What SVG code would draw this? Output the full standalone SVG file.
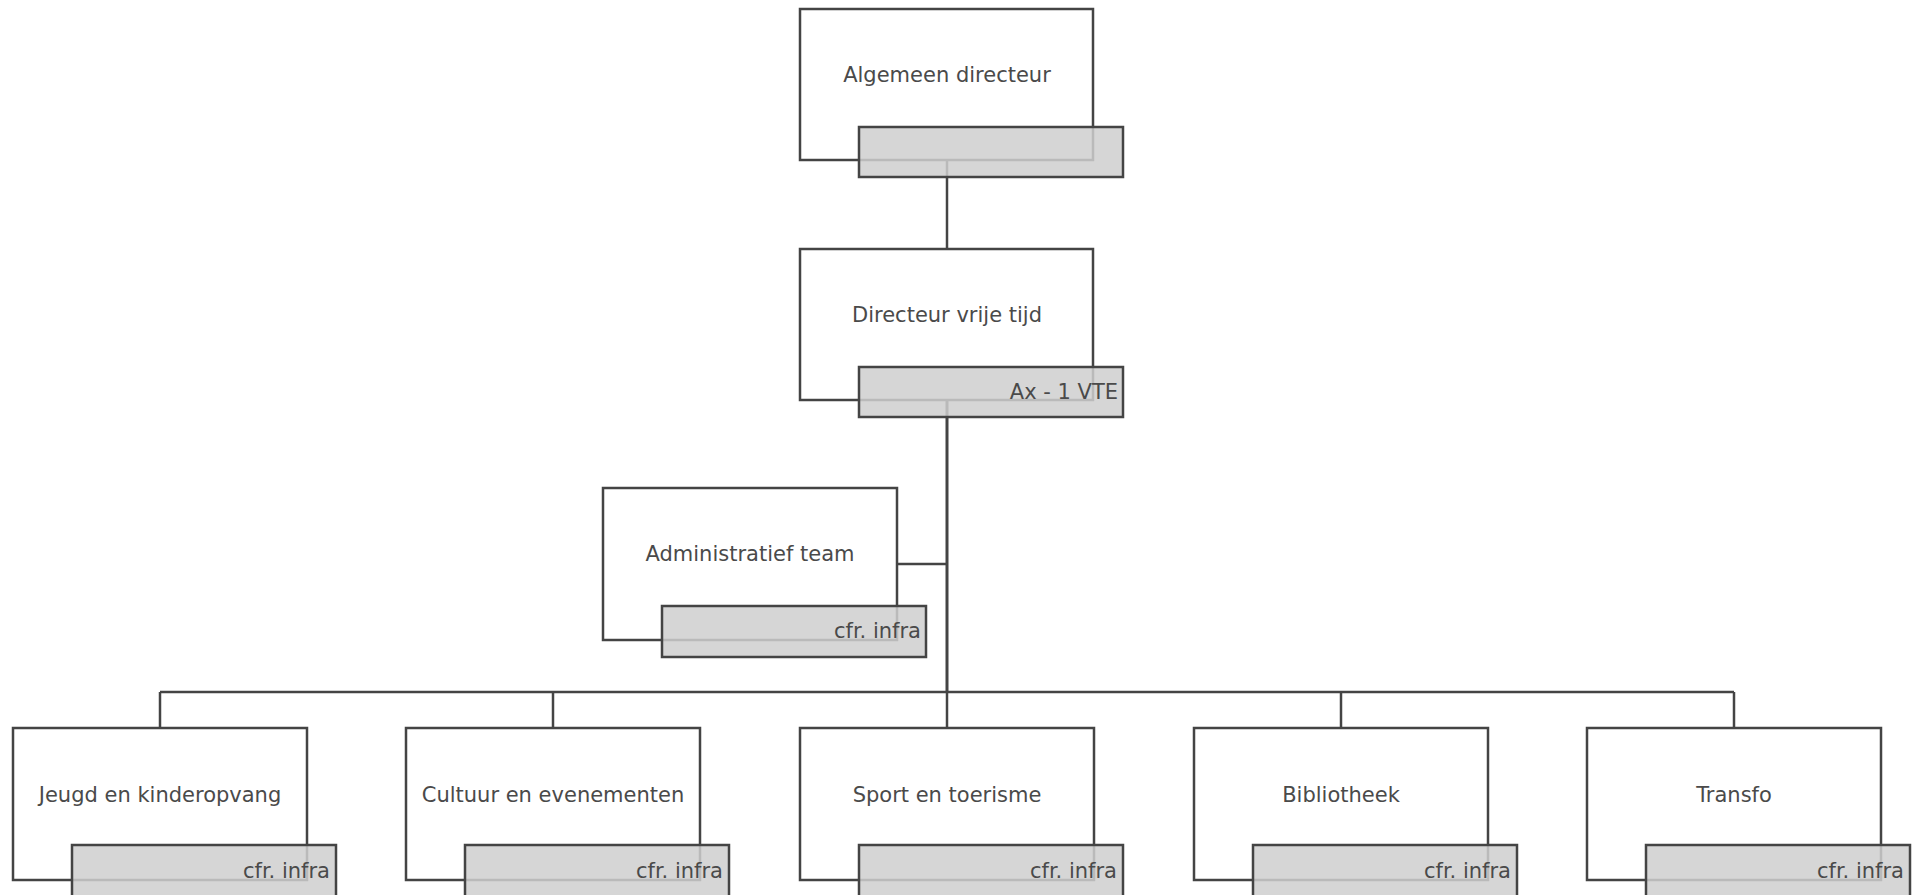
<svg xmlns="http://www.w3.org/2000/svg" width="1914" height="895" viewBox="0 0 1914 895">
<style>
.box{fill:#ffffff;stroke:#444444;stroke-width:2.5}
.sub{fill:#cfcfcf;fill-opacity:0.85;stroke:#444444;stroke-width:2.5}
.conn{fill:none;stroke:#444444;stroke-width:2.5}
.t{font-family:"DejaVu Sans",Verdana,sans-serif;font-size:21px;fill:#4a4a4a;text-anchor:middle}
.s{font-family:"DejaVu Sans",Verdana,sans-serif;font-size:21px;fill:#4a4a4a;text-anchor:end}
</style>
<rect width="1914" height="895" fill="#ffffff"/>
<g id="mainboxes">
<rect class="box" x="800" y="9" width="293" height="151"/>
<rect class="box" x="800" y="249" width="293" height="151"/>
<rect class="box" x="603" y="488" width="294" height="152"/>
<rect class="box" x="13" y="728" width="294" height="152"/>
<rect class="box" x="406" y="728" width="294" height="152"/>
<rect class="box" x="800" y="728" width="294" height="152"/>
<rect class="box" x="1194" y="728" width="294" height="152"/>
<rect class="box" x="1587" y="728" width="294" height="152"/>
</g>
<g id="connectors">
<line class="conn" x1="947" y1="160" x2="947" y2="249"/>
<line class="conn" x1="947" y1="400" x2="947" y2="692" style="stroke-width:3"/>
<polyline class="conn" points="897,564 946,564"/>
<line class="conn" x1="160" y1="692" x2="1734" y2="692"/>
<line class="conn" x1="160" y1="692" x2="160" y2="728"/>
<line class="conn" x1="553" y1="692" x2="553" y2="728"/>
<line class="conn" x1="947" y1="692" x2="947" y2="728"/>
<line class="conn" x1="1341" y1="692" x2="1341" y2="728"/>
<line class="conn" x1="1734" y1="692" x2="1734" y2="728"/>
</g>
<g id="node-algemeen-directeur">
<rect class="sub" x="859" y="127" width="264" height="50"/>
<text class="t" x="947" y="82">Algemeen directeur</text>
</g>
<g id="node-directeur-vrije-tijd">
<rect class="sub" x="859" y="367" width="264" height="50"/>
<text class="t" x="947" y="322">Directeur vrije tijd</text>
<text class="s" x="1118" y="399">Ax - 1 VTE</text>
</g>
<g id="node-administratief-team">
<rect class="sub" x="662" y="606" width="264" height="51"/>
<text class="t" x="750" y="561">Administratief team</text>
<text class="s" x="921" y="638">cfr. infra</text>
</g>
<g id="node-jeugd">
<rect class="sub" x="72" y="845" width="264" height="52"/>
<text class="t" x="160" y="802">Jeugd en kinderopvang</text>
<text class="s" x="330" y="878">cfr. infra</text>
</g>
<g id="node-cultuur">
<rect class="sub" x="465" y="845" width="264" height="52"/>
<text class="t" x="553" y="802">Cultuur en evenementen</text>
<text class="s" x="723" y="878">cfr. infra</text>
</g>
<g id="node-sport">
<rect class="sub" x="859" y="845" width="264" height="52"/>
<text class="t" x="947" y="802">Sport en toerisme</text>
<text class="s" x="1117" y="878">cfr. infra</text>
</g>
<g id="node-bibliotheek">
<rect class="sub" x="1253" y="845" width="264" height="52"/>
<text class="t" x="1341" y="802">Bibliotheek</text>
<text class="s" x="1511" y="878">cfr. infra</text>
</g>
<g id="node-transfo">
<rect class="sub" x="1646" y="845" width="264" height="52"/>
<text class="t" x="1734" y="802">Transfo</text>
<text class="s" x="1904" y="878">cfr. infra</text>
</g>
</svg>
